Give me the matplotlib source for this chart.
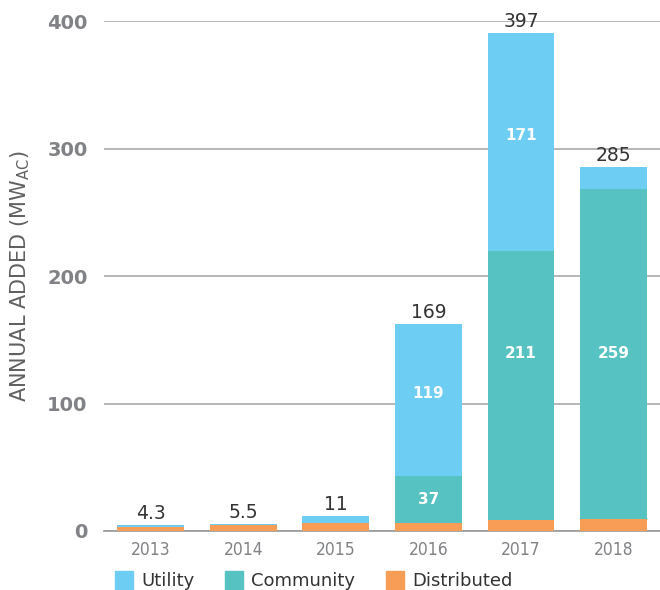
import matplotlib.pyplot as plt
import numpy as np

# annual added capacity, MWac
years = ['2013', '2014', '2015', '2016', '2017', '2018']
distributed = [3.0, 4.8, 6.3, 6.2, 9.0, 9.5]
community = [0, 0, 0, 37, 211, 259]
utility = [1.6, 0.7, 5.2, 119, 171, 17]
total_labels = ['4.3', '5.5', '11', '169', '397', '285']
inner_community = ['', '', '', '37', '211', '259']
inner_utility = ['', '', '', '119', '171', '']

c_util = '#6DCDF2'
c_comm = '#56C2C2'
c_dist = '#F89D56'
grey = '#808285'

fig = plt.figure(figsize=(6.6, 5.9), dpi=100)
ax = fig.add_axes([0.158, 0.1, 0.842, 0.864])

x = np.arange(len(years))
d = np.array(distributed)
c = np.array(community)
u = np.array(utility)
w = 0.72

ax.bar(x, d, w, color=c_dist, zorder=3)
ax.bar(x, c, w, bottom=d, color=c_comm, zorder=3)
ax.bar(x, u, w, bottom=d + c, color=c_util, zorder=3)

# big community labels sit on one row
comm_row = (d + c / 2).max()

for i in range(len(years)):
    top = d[i] + c[i] + u[i]
    ax.text(x[i], top + 1.5, total_labels[i], ha='center', va='bottom',
            fontsize=13.5, color='#333333', zorder=4)
    if inner_community[i]:
        yc = d[i] + c[i] / 2
        if c[i] > 100:
            yc = comm_row
        ax.text(x[i], yc, inner_community[i], ha='center', va='center',
                fontsize=11, color='white', fontweight='bold', zorder=4)
    if inner_utility[i]:
        ax.text(x[i], d[i] + c[i] + u[i] / 2 + 5, inner_utility[i], ha='center',
                va='center', fontsize=11, color='white', fontweight='bold', zorder=4)

ax.set_xlim(-0.5, 5.5)
ax.set_ylim(0, 400)
ax.set_yticks([0, 100, 200, 300, 400])
ax.yaxis.grid(True, color='#aaaaaa', linewidth=1.2, zorder=0)
for s in ['top', 'right', 'left']:
    ax.spines[s].set_visible(False)
ax.spines['bottom'].set_color('#999999')
ax.spines['bottom'].set_linewidth(1.2)
ax.tick_params(axis='y', length=0, pad=12, labelsize=14, labelcolor=grey)
for t in ax.get_yticklabels():
    t.set_fontweight('bold')
ax.set_xticks(x)
ax.set_xticklabels(years, fontsize=12.5, color=grey, fontstretch='condensed')
ax.tick_params(axis='x', length=0, pad=7)

ax.set_ylabel('ANNUAL ADDED (MW$_{\\mathregular{AC}}$)', fontsize=15, color='#5f6062',
              labelpad=11)

handles = [plt.Rectangle((0, 0), 1, 1, color=col) for col in (c_util, c_comm, c_dist)]
fig.legend(handles, ['Utility', 'Community', 'Distributed'], loc='upper left',
           bbox_to_anchor=(0.174, 0.032), ncol=3, frameon=False, fontsize=13,
           handlelength=1.0, handleheight=1.2, handletextpad=0.45, columnspacing=1.7,
           labelcolor='#333333', borderpad=0, borderaxespad=0)

fig.savefig('out.png', dpi=100)
